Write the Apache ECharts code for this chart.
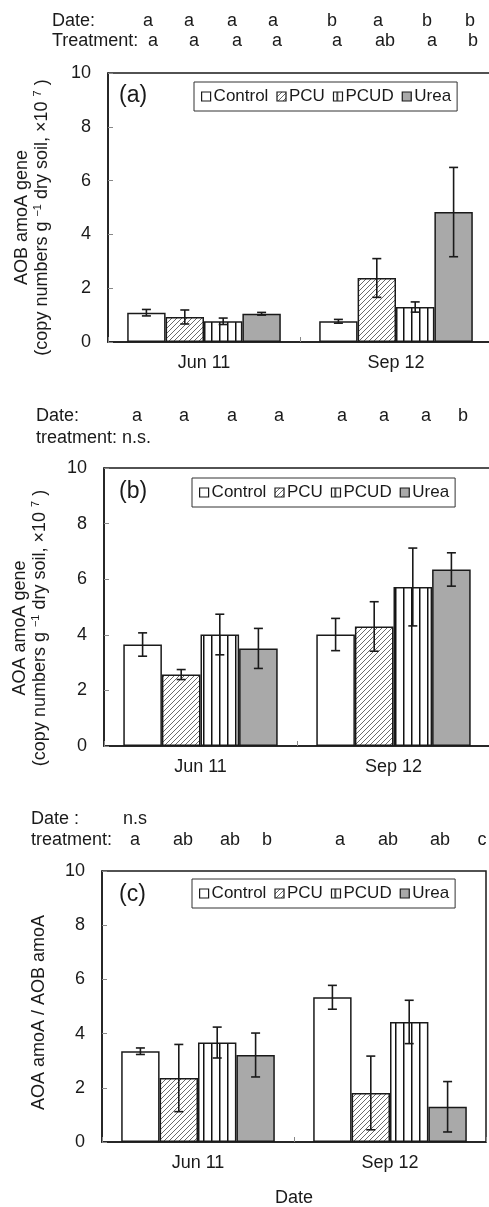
<!DOCTYPE html>
<html>
<head>
<meta charset="utf-8">
<script src="https://cdn.jsdelivr.net/npm/echarts@6/dist/echarts.min.js"></script>
<style>
  html, body { margin: 0; padding: 0; background: #fff; }
  #chart { width: 489px; height: 1207px; }
</style>
</head>
<body>
<div id="chart"></div>
<script>
// categories
const dates = ['Jun 11', 'Sep 12']
const treatments = ['Control', 'PCU', 'PCUD', 'Urea']

// (a) AOB amoA gene, rows = treatment, cols = date
const aobMean = [[1.09, 0.77], [0.93, 2.38], [0.77, 1.30], [1.05, 4.83]]
const aobErr = [[0.12, 0.07], [0.26, 0.72], [0.12, 0.19], [0.05, 1.66]]

// (b) AOA amoA gene
const aoaMean = [[3.65, 4.01], [2.57, 4.30], [4.01, 5.72], [3.51, 6.35]]
const aoaErr = [[0.42, 0.58], [0.18, 0.89], [0.73, 1.40], [0.72, 0.60]]

// (c) AOA / AOB ratio
const ratioMean = [[3.35, 5.34], [2.36, 1.81], [3.67, 4.43], [3.21, 1.30]]
const ratioErr = [[0.12, 0.44], [1.24, 1.36], [0.57, 0.80], [0.81, 0.93]]

// significance letters (one per bar, date-major)
const aDateLetters = ['a', 'a', 'a', 'a', 'b', 'a', 'b', 'b']
const aTreatLetters = ['a', 'a', 'a', 'a', 'a', 'ab', 'a', 'b']
const bDateLetters = ['a', 'a', 'a', 'a', 'a', 'a', 'a', 'b']
const cTreatLetters = ['a', 'ab', 'ab', 'b', 'a', 'ab', 'ab', 'c']

const yTicks = { min: 0, max: 10, interval: 2 }

// layout of the letter rows (x centres)
const aDateX = [148, 189, 232, 273, 332, 378, 427, 470]
const aTreatX = [153, 194, 237, 277, 337, 385, 432, 473]
const bDateX = [137, 184, 232, 279, 342, 384, 426, 463]
const cTreatX = [135, 183, 230, 267, 340, 388, 440, 482]

const FONT = '"Liberation Sans", Arial, Helvetica, sans-serif'
const INK = '#1a1a1a'

function hatchPattern() {
  const s = 5
  const c = document.createElement('canvas')
  c.width = s; c.height = s
  const g = c.getContext('2d')
  g.fillStyle = '#fff'
  g.fillRect(0, 0, s, s)
  g.strokeStyle = '#6a6a6a'
  g.lineWidth = 1
  g.beginPath()
  g.moveTo(0, s); g.lineTo(s, 0)
  g.moveTo(-1, 1); g.lineTo(1, -1)
  g.moveTo(s - 1, s + 1); g.lineTo(s + 1, s - 1)
  g.stroke()
  return c
}

function stripePattern() {
  const c = document.createElement('canvas')
  c.width = 8; c.height = 8
  const g = c.getContext('2d')
  g.fillStyle = '#fff'
  g.fillRect(0, 0, 8, 8)
  g.fillStyle = '#111'
  g.fillRect(3, 0, 1.5, 8)
  return c
}

const fills = [
  '#ffffff',
  { image: hatchPattern(), repeat: 'repeat' },
  { image: stripePattern(), repeat: 'repeat' },
  '#a9a9a9'
]

const grids = [
  { left: 108, top: 73, height: 269, width: 384 },
  { left: 104, top: 468, height: 278, width: 386 },
  { left: 102, top: 871, height: 271, width: 384 }
]

const means = [aobMean, aoaMean, ratioMean]
const errs = [aobErr, aoaErr, ratioErr]

const yNames = [
  'AOB amoA gene\n(copy numbers g {sup|−1} dry soil, ×10 {sup|7} )',
  'AOA amoA gene\n(copy numbers g {sup|−1} dry soil, ×10 {sup|7} )',
  'AOA amoA / AOB amoA'
]
const yNameGap = [56, 54, 53]
const yNameShift = [20, 42, 12]

const legendPos = [
  { left: 194, top: 82 },
  { left: 192, top: 478 },
  { left: 192, top: 879 }
]

const chart = echarts.init(document.getElementById('chart'))

const series = []
means.forEach((m, g) => {
  treatments.forEach((t, i) => {
    series.push({
      type: 'bar',
      name: t,
      xAxisIndex: g,
      yAxisIndex: g,
      data: m[i],
      barGap: '0%',
      barCategoryGap: '20%',
      itemStyle: { color: fills[i], borderColor: INK, borderWidth: 1.5 },
      emphasis: { disabled: true },
      silent: true
    })
  })
  const ebData = []
  dates.forEach((d, di) => {
    treatments.forEach((t, ti) => {
      ebData.push([di, ti, m[ti][di], errs[g][ti][di]])
    })
  })
  series.push({
    type: 'custom',
    xAxisIndex: g,
    yAxisIndex: g,
    z: 5,
    silent: true,
    data: ebData,
    encode: { x: 0, y: 2 },
    renderItem: (params, api) => {
      const cat = api.value(0)
      const s = api.value(1)
      const v = api.value(2)
      const e = api.value(3)
      const band = api.size([1, 0])[0]
      const barW = band * 0.8 / 4
      const cx = api.coord([cat, v])[0] + (s - 1.5) * barW
      const top = api.coord([cat, v + e])[1]
      const bot = api.coord([cat, Math.max(v - e, 0)])[1]
      const cap = 4.5
      const style = { stroke: INK, lineWidth: 1.6 }
      return {
        type: 'group',
        children: [
          { type: 'line', shape: { x1: cx, y1: top, x2: cx, y2: bot }, style },
          { type: 'line', shape: { x1: cx - cap, y1: top, x2: cx + cap, y2: top }, style },
          { type: 'line', shape: { x1: cx - cap, y1: bot, x2: cx + cap, y2: bot }, style }
        ]
      }
    }
  })
})

const textStyle = { fontFamily: FONT, fontSize: 18, fill: INK }
const graphic = []
function addText(str, x, y, align) {
  graphic.push({
    type: 'text', x, y,
    style: Object.assign({}, textStyle, { text: str, textAlign: align || 'left', textVerticalAlign: 'middle' })
  })
}
// panel a header
addText('Date:', 52, 21)
addText('Treatment:', 52, 41)
aDateLetters.forEach((l, i) => addText(l, aDateX[i], 21, 'center'))
aTreatLetters.forEach((l, i) => addText(l, aTreatX[i], 41, 'center'))
// panel b header
addText('Date:', 36, 416)
addText('treatment: n.s.', 36, 438)
bDateLetters.forEach((l, i) => addText(l, bDateX[i], 416, 'center'))
// panel c header
addText('Date :', 31, 819)
addText('n.s', 123, 819)
addText('treatment:', 31, 840)
cTreatLetters.forEach((l, i) => addText(l, cTreatX[i], 840, 'center'))
// panel tags
;[['(a)', 119, 96], ['(b)', 119, 492], ['(c)', 119, 895]].forEach(p => {
  graphic.push({
    type: 'text', x: p[1], y: p[2],
    style: { text: p[0], fontFamily: FONT, fontSize: 23, fill: INK, textVerticalAlign: 'middle' }
  })
})

const option = {
  animation: false,
  backgroundColor: '#fff',
  grid: grids.map(g => Object.assign({
    show: true, borderColor: INK, borderWidth: 1.5, backgroundColor: 'transparent',
    outerBoundsMode: 'none', containLabel: false
  }, g)),
  xAxis: grids.map((g, i) => ({
    type: 'category',
    gridIndex: i,
    data: dates,
    name: i === 2 ? 'Date' : '',
    nameLocation: 'middle',
    nameGap: 47,
    nameTextStyle: { fontFamily: FONT, fontSize: 18, color: INK },
    axisLine: { lineStyle: { color: INK, width: 1.5 } },
    axisTick: { show: true, inside: true, length: 5, lineStyle: { color: '#888', width: 1 } },
    axisLabel: { fontFamily: FONT, fontSize: 18, color: INK, margin: 12 }
  })),
  yAxis: grids.map((g, i) => ({
    type: 'value',
    gridIndex: i,
    min: yTicks.min,
    max: yTicks.max,
    interval: yTicks.interval,
    name: yNames[i],
    nameLocation: 'middle',
    nameRotate: 90,
    nameGap: yNameGap[i],
    nameTextStyle: {
      fontFamily: FONT, fontSize: 18, color: INK, lineHeight: 20,
      padding: [0, yNameShift[i], 0, 0],
      rich: { sup: { fontFamily: FONT, fontSize: 11, color: INK, padding: [0, 0, 9, 0] } }
    },
    axisLine: { show: true, lineStyle: { color: INK, width: 1.5 } },
    axisTick: { show: true, inside: true, length: 5, lineStyle: { color: '#888', width: 1 } },
    splitLine: { show: false },
    axisLabel: { fontFamily: FONT, fontSize: 18, color: INK, margin: 17 }
  })),
  legend: legendPos.map(p => ({
    left: p.left,
    top: p.top,
    data: treatments,
    icon: 'rect',
    itemWidth: 9,
    itemHeight: 9,
    itemGap: 8,
    selectedMode: false,
    borderColor: '#333',
    borderWidth: 1,
    padding: [6, 6, 6, 7],
    itemStyle: { borderColor: INK, borderWidth: 1.2 },
    textStyle: { fontFamily: FONT, fontSize: 17, color: INK, padding: [0, 0, 0, -2] }
  })),
  series,
  graphic
}

chart.setOption(option)
</script>
</body>
</html>
